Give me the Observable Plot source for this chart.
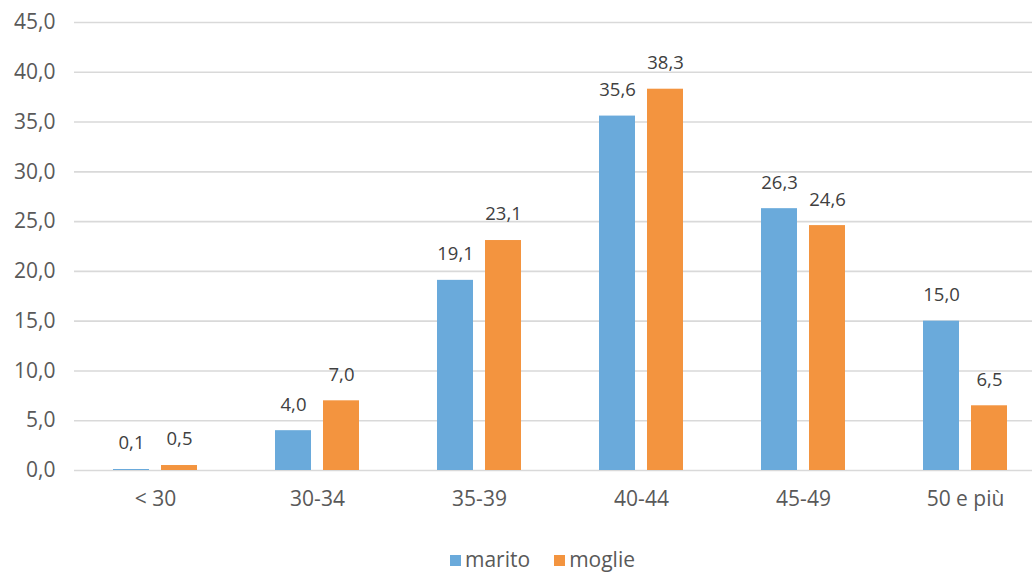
<!DOCTYPE html>
<html>
<head>
<meta charset="utf-8">
<script src="https://cdn.jsdelivr.net/npm/d3@7"></script>
<script src="https://cdn.jsdelivr.net/npm/@observablehq/plot@0.6"></script>
<style>
  html, body { margin: 0; padding: 0; background: #fff; overflow: hidden; }
  #wrap { width: 1032px; height: 572px; overflow: hidden; position: relative; font-family: "Open Sans", sans-serif; }
  #chart svg { max-width: none !important; display: block; }
  #legend { position: absolute; left: 450px; top: 545px; display: flex; align-items: center; font-size: 21px; line-height: 29px; color: #595959; }
  .item { display: flex; align-items: center; margin-right: 24px; }
  .sw { width: 11px; height: 11px; margin-right: 4px; margin-top: 2px; }
</style>
</head>
<body>
<div id="wrap">
  <div id="chart"></div>
  <div id="legend"></div>
</div>
<script>
// Age classes of spouses
const categories = ["< 30", "30-34", "35-39", "40-44", "45-49", "50 e più"];
const series = ["marito", "moglie"];
const marito = [0.1, 4.0, 19.1, 35.6, 26.3, 15.0];
const moglie = [0.5, 7.0, 23.1, 38.3, 24.6, 6.5];
const yTicks = [0, 5, 10, 15, 20, 25, 30, 35, 40, 45];
const colors = ["#6aaadb", "#f3943f"];

const data = categories.flatMap((cat, i) => [
  {cat, serie: "marito", value: marito[i]},
  {cat, serie: "moglie", value: moglie[i]}
]);

const fmt = d => d.toFixed(1).replace(".", ",");

const chart = Plot.plot({
  width: 1047,
  height: 520,
  marginLeft: 73,
  marginRight: 0,
  marginTop: 22,
  marginBottom: 50,
  style: {fontFamily: "Open Sans, sans-serif", fontSize: "21px", color: "#595959", background: "#fff", maxWidth: "none"},
  fx: {domain: categories, padding: 0, label: null, axis: "bottom", tickSize: 0, tickPadding: 21},
  x: {domain: series, paddingInner: 0.25, paddingOuter: 0.786, axis: null},
  y: {domain: [0, 45], ticks: yTicks, label: null, tickSize: 0, tickPadding: 19, tickFormat: fmt},
  color: {domain: series, range: colors},
  marks: [
    Plot.ruleY(yTicks, {stroke: "#d9d9d9", strokeWidth: 1.6}),
    Plot.barY(data, {fx: "cat", x: "serie", y: "value", fill: "serie"}),
    Plot.text(data, {fx: "cat", x: "serie", y: "value", text: d => fmt(d.value), dy: -26, lineAnchor: "middle", fill: "#404040", fontSize: 18.5})
  ]
});
document.getElementById("chart").appendChild(chart);

const legend = document.getElementById("legend");
series.forEach((s, i) => {
  const item = document.createElement("div");
  item.className = "item";
  const sw = document.createElement("div");
  sw.className = "sw";
  sw.style.background = colors[i];
  const label = document.createElement("span");
  label.textContent = s;
  item.appendChild(sw);
  item.appendChild(label);
  legend.appendChild(item);
});
</script>
</body>
</html>
